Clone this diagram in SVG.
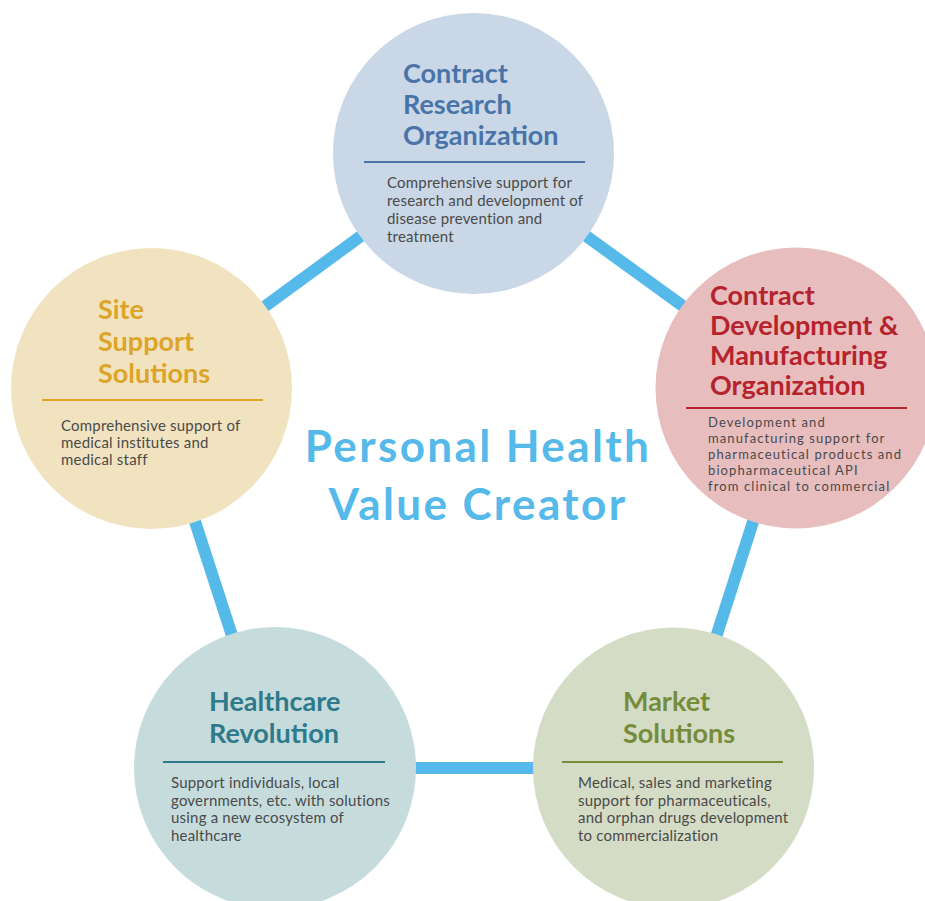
<svg xmlns="http://www.w3.org/2000/svg" width="925" height="901" viewBox="0 0 925 901">
<style>
.title{font-family:Lato,"Open Sans","Liberation Sans",sans-serif;font-weight:bold;font-size:27px}
.body{font-family:Lato,"Open Sans","Liberation Sans",sans-serif;font-size:15px;letter-spacing:0.2px;fill:#4a4a4a}
.tight{font-size:13px;letter-spacing:1.1px}
.center{font-family:Lato,"Open Sans","Liberation Sans",sans-serif;font-weight:bold;font-size:44px;letter-spacing:2.4px;fill:#55b9e9}
.conn{stroke:#55b9e9;stroke-width:12;fill:none}
</style>
<rect width="925" height="901" fill="#ffffff"/>
<g id="connectors">
<line class="conn" x1="473" y1="154" x2="796" y2="388"/>
<line class="conn" x1="473" y1="154" x2="152" y2="389"/>
<line class="conn" x1="152" y1="389" x2="275" y2="768"/>
<line class="conn" x1="275" y1="768" x2="674" y2="768"/>
<line class="conn" x1="796" y1="388" x2="674" y2="768"/>
</g>
<g id="cro">
<circle cx="473.5" cy="153.5" r="140.5" fill="#c9d7e6"/>
<text class="title" fill="#4a74a8"><tspan x="403" y="83">Contract</tspan><tspan x="403" y="114">Research</tspan><tspan x="403" y="145">Organization</tspan></text>
<line x1="364" y1="162" x2="585" y2="162" stroke="#4a74a8" stroke-width="2"/>
<text class="body"><tspan x="387" y="188">Comprehensive support for</tspan><tspan x="387" y="206">research and development of</tspan><tspan x="387" y="224">disease prevention and</tspan><tspan x="387" y="242">treatment</tspan></text>
</g>
<g id="cdmo">
<circle cx="796" cy="388" r="140.5" fill="#e8bdbe"/>
<text class="title" fill="#b5232d"><tspan x="710" y="305">Contract</tspan><tspan x="710" y="335">Development &amp;</tspan><tspan x="710" y="365">Manufacturing</tspan><tspan x="710" y="395">Organization</tspan></text>
<line x1="686" y1="408" x2="907" y2="408" stroke="#b5232d" stroke-width="2"/>
<text class="body tight"><tspan x="708" y="427">Development and</tspan><tspan x="708" y="443">manufacturing support for</tspan><tspan x="708" y="459">pharmaceutical products and</tspan><tspan x="708" y="475">biopharmaceutical API</tspan><tspan x="708" y="491">from clinical to commercial</tspan></text>
</g>
<g id="site">
<circle cx="151.5" cy="388.5" r="140.5" fill="#f2e3c0"/>
<text class="title" fill="#dca428"><tspan x="98" y="319">Site</tspan><tspan x="98" y="351">Support</tspan><tspan x="98" y="383">Solutions</tspan></text>
<line x1="42" y1="400" x2="263" y2="400" stroke="#dca428" stroke-width="2"/>
<text class="body"><tspan x="61" y="431">Comprehensive support of</tspan><tspan x="61" y="448">medical institutes and</tspan><tspan x="61" y="465">medical staff</tspan></text>
</g>
<g id="healthcare">
<circle cx="275" cy="768" r="141" fill="#c6dcdc"/>
<text class="title" fill="#2e7a8a"><tspan x="209" y="711">Healthcare</tspan><tspan x="209" y="743">Revolution</tspan></text>
<line x1="163" y1="762" x2="385" y2="762" stroke="#2e7a8a" stroke-width="2"/>
<text class="body"><tspan x="171" y="788">Support individuals, local</tspan><tspan x="171" y="805.5">governments, etc. with solutions</tspan><tspan x="171" y="823">using a new ecosystem of</tspan><tspan x="171" y="840.5">healthcare</tspan></text>
</g>
<g id="market">
<circle cx="673.5" cy="768" r="140.5" fill="#d5dcc6"/>
<text class="title" fill="#758c3a"><tspan x="623" y="711">Market</tspan><tspan x="623" y="743">Solutions</tspan></text>
<line x1="562" y1="762" x2="783" y2="762" stroke="#758c3a" stroke-width="2"/>
<text class="body"><tspan x="578" y="788">Medical, sales and marketing</tspan><tspan x="578" y="805.5">support for pharmaceuticals,</tspan><tspan x="578" y="823">and orphan drugs development</tspan><tspan x="578" y="840.5">to commercialization</tspan></text>
</g>
<g id="center">
<text class="center" text-anchor="middle"><tspan x="478" y="462">Personal Health</tspan><tspan x="478" y="520">Value Creator</tspan></text>
</g>
</svg>
